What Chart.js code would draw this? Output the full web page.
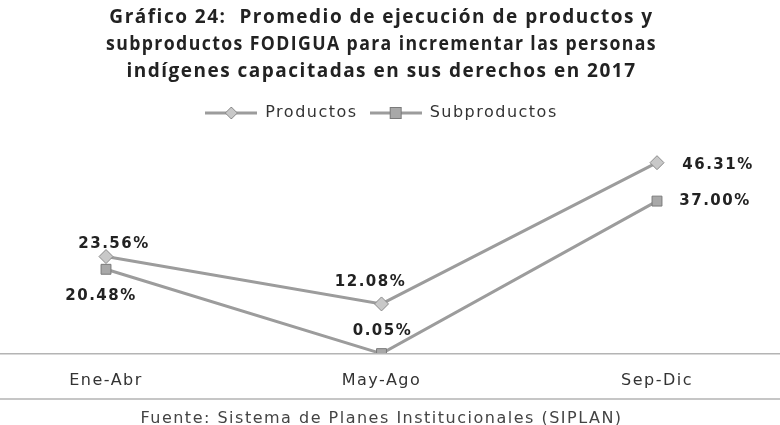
<!DOCTYPE html>
<html>
<head>
<meta charset="utf-8">
<script src="https://cdn.jsdelivr.net/npm/chart.js@4"></script>
<style>
  body { margin: 0; background: #fff; }
  #wrap { width: 780px; height: 425px; }
</style>
</head>
<body>
<div id="wrap"><canvas id="c"></canvas></div>
<script>
const periods = ['Ene-Abr', 'May-Ago', 'Sep-Dic'];
const productos = [23.56, 12.08, 46.31];
const subproductos = [20.48, 0.05, 37.00];

const titleLines = [
  'Gráfico 24:  Promedio de ejecución de productos y',
  'subproductos FODIGUA para incrementar las personas',
  'indígenes capacitadas en sus derechos en 2017'
];
const sourceText = 'Fuente: Sistema de Planes Institucionales (SIPLAN)';

// label offsets relative to each point [dx, dy]
const labelOffsets = [
  [[8, -12], [-11, -22], [61, 2]],
  [[-5, 27], [1, -22], [58, 0]]
];

const lineGray = '#9c9c9c';

// small legend icon: line with the marker in the middle
function makeIcon(kind) {
  const cv = document.createElement('canvas');
  cv.width = 52; cv.height = 16;
  const g = cv.getContext('2d');
  g.strokeStyle = lineGray; g.lineWidth = 3;
  g.beginPath(); g.moveTo(0, 8); g.lineTo(52, 8); g.stroke();
  g.lineWidth = 1;
  if (kind === 'diamond') {
    g.fillStyle = '#c8c8c8'; g.strokeStyle = '#8a8a8a';
    g.beginPath(); g.moveTo(26, 2); g.lineTo(32, 8); g.lineTo(26, 14); g.lineTo(20, 8); g.closePath();
    g.fill(); g.stroke();
  } else {
    g.fillStyle = '#a8a8a8'; g.strokeStyle = '#7a7a7a';
    g.fillRect(20, 2, 12, 12); g.strokeRect(20.5, 2.5, 11, 11);
  }
  return cv;
}
const icons = [makeIcon('diamond'), makeIcon('square')];

const spacing = {
  id: 'spacing',
  beforeUpdate(chart) { chart.ctx.letterSpacing = '1.5px'; },
  beforeDraw(chart) { chart.ctx.letterSpacing = '1.5px'; }
};

const extras = {
  id: 'extras',
  afterDatasetsDraw(chart) {
    const ctx = chart.ctx;
    const y0 = chart.scales.y.getPixelForValue(0);
    ctx.save();
    ctx.strokeStyle = '#b4b4b4';
    ctx.lineWidth = 1.5;
    ctx.beginPath();
    ctx.moveTo(0, y0); ctx.lineTo(chart.width, y0);
    ctx.moveTo(0, 399); ctx.lineTo(chart.width, 399);
    ctx.stroke();

    ctx.font = 'bold 15px "DejaVu Sans"';
    ctx.fillStyle = '#222';
    ctx.textAlign = 'center';
    ctx.textBaseline = 'middle';
    chart.data.datasets.forEach((ds, i) => {
      chart.getDatasetMeta(i).data.forEach((pt, j) => {
        const off = labelOffsets[i][j];
        ctx.fillText(ds.data[j].toFixed(2) + '%', pt.x + off[0], pt.y + off[1]);
      });
    });
    ctx.restore();
  }
};

new Chart(document.getElementById('c'), {
  type: 'line',
  data: {
    labels: periods,
    datasets: [
      {
        label: 'Productos',
        data: productos,
        borderColor: lineGray,
        borderWidth: 3,
        pointStyle: 'rectRot',
        pointRadius: 7,
        pointBackgroundColor: '#c8c8c8',
        pointBorderColor: '#8a8a8a',
        pointBorderWidth: 1
      },
      {
        label: 'Subproductos',
        data: subproductos,
        borderColor: lineGray,
        borderWidth: 3,
        pointStyle: 'rect',
        pointRadius: 7,
        pointBackgroundColor: '#a8a8a8',
        pointBorderColor: '#7a7a7a',
        pointBorderWidth: 1
      }
    ]
  },
  options: {
    responsive: true,
    maintainAspectRatio: false,
    animation: false,
    layout: { padding: { left: 106, right: 123, top: 4, bottom: 0 } },
    plugins: {
      title: {
        display: true,
        text: titleLines,
        color: '#222',
        font: { family: '"Open Sans"', size: 19, weight: 'bold', lineHeight: 1.42 },
        padding: { top: 0, bottom: 8 }
      },
      subtitle: {
        display: true,
        position: 'bottom',
        text: sourceText,
        color: '#444',
        font: { family: '"DejaVu Sans"', size: 16, lineHeight: 1.0 },
        padding: { top: 12, bottom: -2 }
      },
      legend: {
        labels: {
          usePointStyle: true,
          pointStyleWidth: 52,
          color: '#333',
          font: { family: '"DejaVu Sans"', size: 16 },
          padding: 12,
          generateLabels(chart) {
            const items = Chart.defaults.plugins.legend.labels.generateLabels(chart);
            items.forEach((it, k) => { it.pointStyle = icons[k]; });
            return items;
          }
        }
      },
      tooltip: { enabled: false }
    },
    scales: {
      x: {
        grid: { display: false },
        border: { display: false },
        ticks: { color: '#333', font: { family: '"DejaVu Sans"', size: 16 }, padding: 9 }
      },
      y: {
        display: false,
        min: 0,
        max: 54
      }
    }
  },
  plugins: [spacing, extras]
});
</script>
</body>
</html>
